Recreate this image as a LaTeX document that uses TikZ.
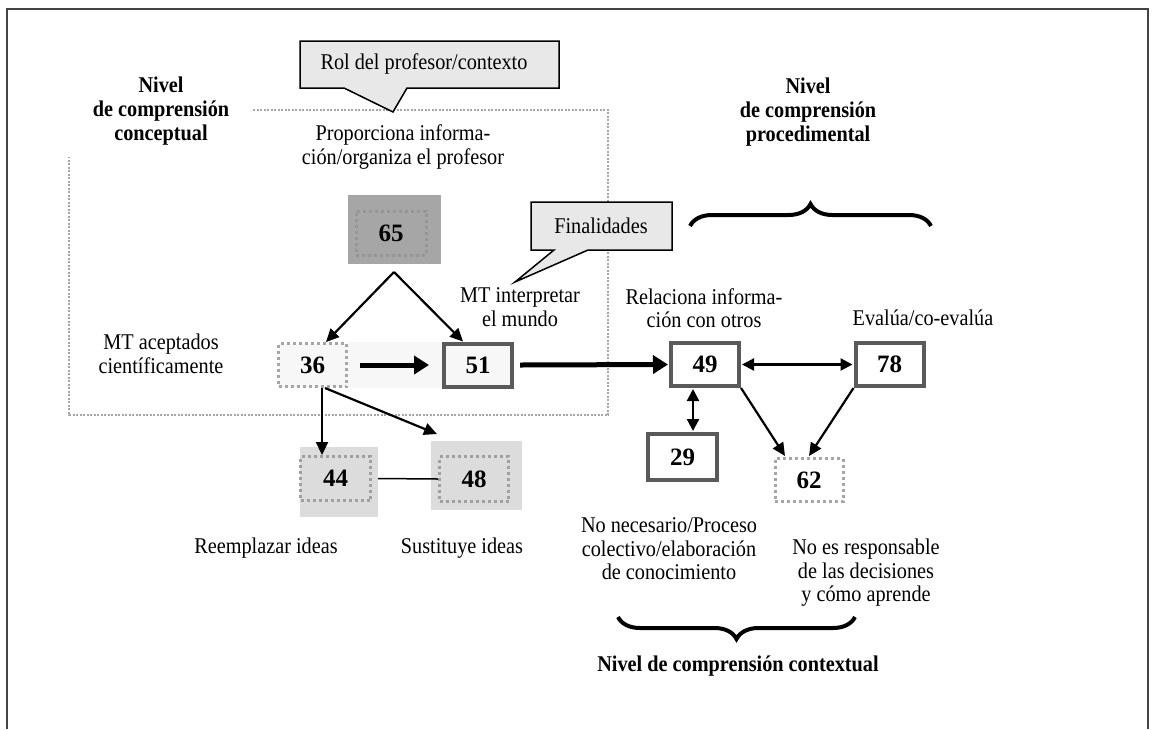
\documentclass[tikz,border=0pt]{standalone}
\usepackage{fontspec}
\setmainfont{Liberation Serif}[FakeStretch=0.9]
\newfontfamily\numfont{Liberation Serif}
\usetikzlibrary{arrows.meta,calc,decorations.pathreplacing}
\definecolor{callfill}{HTML}{E8E8E8}
\definecolor{boxgray}{HTML}{5A5A5A}
\definecolor{dotgray}{HTML}{A6A6A6}
\definecolor{darkfill}{HTML}{A6A6A6}
\definecolor{darkdot}{HTML}{969696}
\definecolor{midfill}{HTML}{DCDCDC}
\definecolor{middot}{HTML}{A0A0A0}
\definecolor{lightfill}{HTML}{F7F7F7}
\definecolor{framegray}{HTML}{444444}
\tikzset{
  txt/.style={font=\fontsize{22.5}{23.5}\selectfont, align=center, inner sep=0pt},
  btxt/.style={font=\fontsize{22.5}{24}\selectfont\bfseries, align=center, inner sep=0pt},
  num/.style={font=\numfont\fontsize{25}{25}\selectfont\bfseries, inner sep=0pt},
  solidbox/.style={num, draw=boxgray, line width=4pt, fill=white, minimum width=68pt, minimum height=43pt},
  dotbox/.style={num, draw=dotgray, line width=3pt, dash pattern=on 3pt off 3pt, fill=white, minimum width=68pt, minimum height=43pt},
  innerdot/.style={num, line width=3pt, dash pattern=on 3pt off 3pt, minimum width=70pt, minimum height=44pt},
  callout/.style={fill=callfill, draw=black, line width=1.5pt, line join=miter},
  region/.style={draw=dotgray, line width=2pt, dash pattern=on 2pt off 1.5pt},
  thinarr/.style={draw=black, line width=2.2pt, -{Triangle[length=13pt,width=12pt]}},
  dblarr/.style={draw=black, line width=2.2pt, {Triangle[length=12pt,width=12pt]}-{Triangle[length=12pt,width=12pt]}},
  thickarr/.style={draw=black, line width=5pt, -{Triangle[length=15pt,width=18pt]}},
  bracestyle/.style={draw=black, line width=4pt, decorate, decoration={brace, amplitude=22pt, aspect=0.5}},
}
\begin{document}
\begin{tikzpicture}[x=1pt, y=-1pt]
\useasboundingbox (0,0) rectangle (1153,729);
% outer frame
\draw[framegray, line width=1.5pt] (7,729) -- (7,9) -- (1148,9) -- (1148,729);

% conceptual region
\draw[region] (253,110) -- (608,110) -- (608,415) -- (69,415) -- (69,157);

% callouts
\draw[callout] (300,41) -- (559,41) -- (559,88) -- (407,88) -- (393,112) -- (344,88) -- (300,88) -- cycle;
\node[txt] (rolt) at (424,64) {Rol del profesor/contexto};
\draw[callout] (531,202) -- (672,202) -- (672,250) -- (588,250) -- (515,282) -- (554,250) -- (531,250) -- cycle;
\node[txt] (fint) at (601,226) {Finalidades};

% labels
\node[btxt] (conc) at (161,111) {Nivel\\de comprensión\\conceptual};
\node[btxt] (proc) at (808,112) {Nivel\\de comprensión\\procedimental};
\node[txt] (prop) at (403,147) {Proporciona informa-\\ción/organiza el profesor};
\node[txt] (mti) at (520,307) {MT interpretar\\el mundo};
\node[txt] (mta) at (161,354) {MT aceptados\\científicamente};
\node[txt] (rel) at (704,308) {Relaciona informa-\\ción con otros};
\node[txt] (eva) at (923,318) {Evalúa/co-evalúa};
\node[txt] (ree) at (266,548) {Reemplazar ideas};
\node[txt] (sus) at (462,548) {Sustituye ideas};
\node[txt] (nonec) at (669,549) {No necesario/Proceso\\colectivo/elaboración\\de conocimiento};
\node[txt] (noes) at (866,573) {No es responsable\\de las decisiones\\y cómo aprende};
\node[btxt] (ctx) at (738,666) {Nivel de comprensión contextual};

% braces
\coordinate (bpa) at (690,226);
\coordinate (bpb) at (931,226);
\draw[bracestyle] (bpa) -- (bpb);
\coordinate (bca) at (855,617);
\coordinate (bcb) at (618,617);
\draw[bracestyle] (bca) -- (bcb);

% box 65
\fill[darkfill] (348,195) rectangle (441,264);
\node[innerdot, draw=darkdot] (n65) at (391,233) {65};
\coordinate (fork) at (394,272);

% band between 36 and 51
\fill[lightfill] (348,342) rectangle (442,388);
\node[dotbox, fill=lightfill] (n36) at (312.5,365) {36};
\node[solidbox, fill=lightfill] (n51) at (478,365) {51};
\node[solidbox] (n49) at (705,364.5) {49};
\node[solidbox] (n78) at (889.5,364.5) {78};
\node[solidbox, minimum width=69pt, minimum height=46pt] (n29) at (682.5,457) {29};
\node[dotbox] (n62) at (809,480) {62};

% boxes 44 and 48
\fill[midfill] (300,447) rectangle (378,517);
\node[innerdot, draw=middot, minimum width=70pt, minimum height=44pt] (n44) at (335.5,478.5) {44};
\fill[midfill] (431,441) rectangle (522,510);
\node[innerdot, draw=middot, minimum width=69pt, minimum height=45pt] (n48) at (474,479) {48};

% connectors
\draw[thinarr] (fork) -- ($(n36.north)+(13.5,0)$);
\draw[thinarr] (fork) -- ($(n51.north)+(-15,0)$);
\draw[thickarr] ($(n36.east)+(12,0)$) -- ($(n51.west)+(-13,0)$);
\draw[thickarr] ($(n51.east)+(6,0)$) -- ($(n49.west)+(-1,0)$);
\draw[dblarr] ($(n49.east)+(1,0)$) -- ($(n78.west)+(-1,0)$);
\draw[dblarr] ($(n49.south)+(-12,1)$) -- ($(n29.north)+(10.5,-1)$);
\draw[thinarr] (n49.south east) -- ($(n62.north)+(-24,-1)$);
\draw[thinarr] (n78.south west) -- ($(n62.north)+(0,-1)$);
\draw[thinarr] ($(n36.south)+(9.5,0)$) -- ($(n44.north)+(-13.5,0)$);
\draw[thinarr] ($(n36.south)+(12.5,0)$) -- ($(n48.north west)+(-1,-21)$);
\draw[black, line width=1.5pt] ($(n44.east)+(6,0)$) -- (n48.west);
\end{tikzpicture}
\end{document}
